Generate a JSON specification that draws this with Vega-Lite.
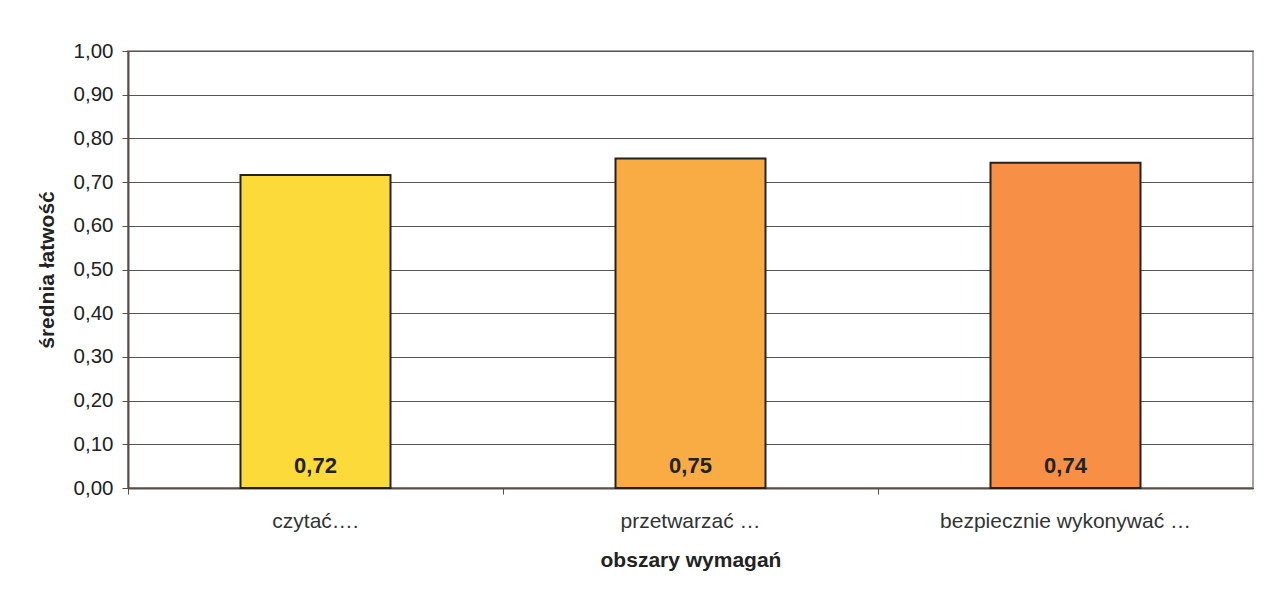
{
  "$schema": "https://vega.github.io/schema/vega-lite/v6.json",
  "autosize": "none",
  "width": 1125,
  "height": 437,
  "padding": {"left": 128, "top": 51, "right": 12, "bottom": 104},
  "background": "white",
  "config": {
    "locale": {"number": {"decimal": ",", "thousands": " ", "grouping": [3], "currency": ["", " zł"]}},
    "font": "Liberation Sans",
    "view": {"stroke": "#a8a09c", "strokeWidth": 2}
  },
  "data": {
    "values": [
      {"obszar": "czytać….", "wartosc": 0.716, "kolor": "#fcda3a"},
      {"obszar": "przetwarzać …", "wartosc": 0.754, "kolor": "#f9ab44"},
      {"obszar": "bezpiecznie wykonywać …", "wartosc": 0.744, "kolor": "#f79046"}
    ]
  },
  "encoding": {
    "x": {
      "field": "obszar",
      "type": "nominal",
      "sort": null,
      "scale": {"paddingInner": 0.6, "paddingOuter": 0.3},
      "axis": {
        "title": "obszary wymagań",
        "titleFontSize": 21,
        "titleFontWeight": "bold",
        "titleColor": "#222222",
        "titlePadding": 18,
        "labelAngle": 0,
        "labelFontSize": 21,
        "labelLimit": 0,
        "labelColor": "#333333",
        "labelPadding": 16,
        "tickSize": 6,
        "tickColor": "#5a4e4a",
        "tickWidth": 1,
        "bandPosition": -0.75,
        "domainColor": "#5a4e4a",
        "domainWidth": 2
      }
    }
  },
  "layer": [
    {
      "mark": {"type": "bar", "stroke": "#222222", "strokeWidth": 2},
      "encoding": {
        "y": {
          "field": "wartosc",
          "type": "quantitative",
          "scale": {"domain": [0, 1]},
          "axis": {
            "title": "średnia łatwość",
            "titleFontSize": 21,
            "titleFontWeight": "bold",
            "titleColor": "#222222",
            "titlePadding": 16,
            "values": [0, 0.1, 0.2, 0.3, 0.4, 0.5, 0.6, 0.7, 0.8, 0.9, 1.0],
            "format": ".2f",
            "labelFontSize": 20.5,
            "labelColor": "#222222",
            "labelPadding": 9,
            "tickSize": 6,
            "tickColor": "#5a4e4a",
            "domainColor": "#5a4e4a",
            "domainWidth": 2,
            "grid": true,
            "gridColor": "#555555",
            "gridWidth": 1
          }
        },
        "color": {"field": "kolor", "type": "nominal", "scale": null}
      }
    },
    {
      "mark": {"type": "text", "fontSize": 22, "fontWeight": "bold", "color": "#222222", "baseline": "middle"},
      "encoding": {
        "y": {"datum": 0.05, "type": "quantitative"},
        "text": {"field": "wartosc", "type": "quantitative", "format": ".2f"}
      }
    }
  ]
}
